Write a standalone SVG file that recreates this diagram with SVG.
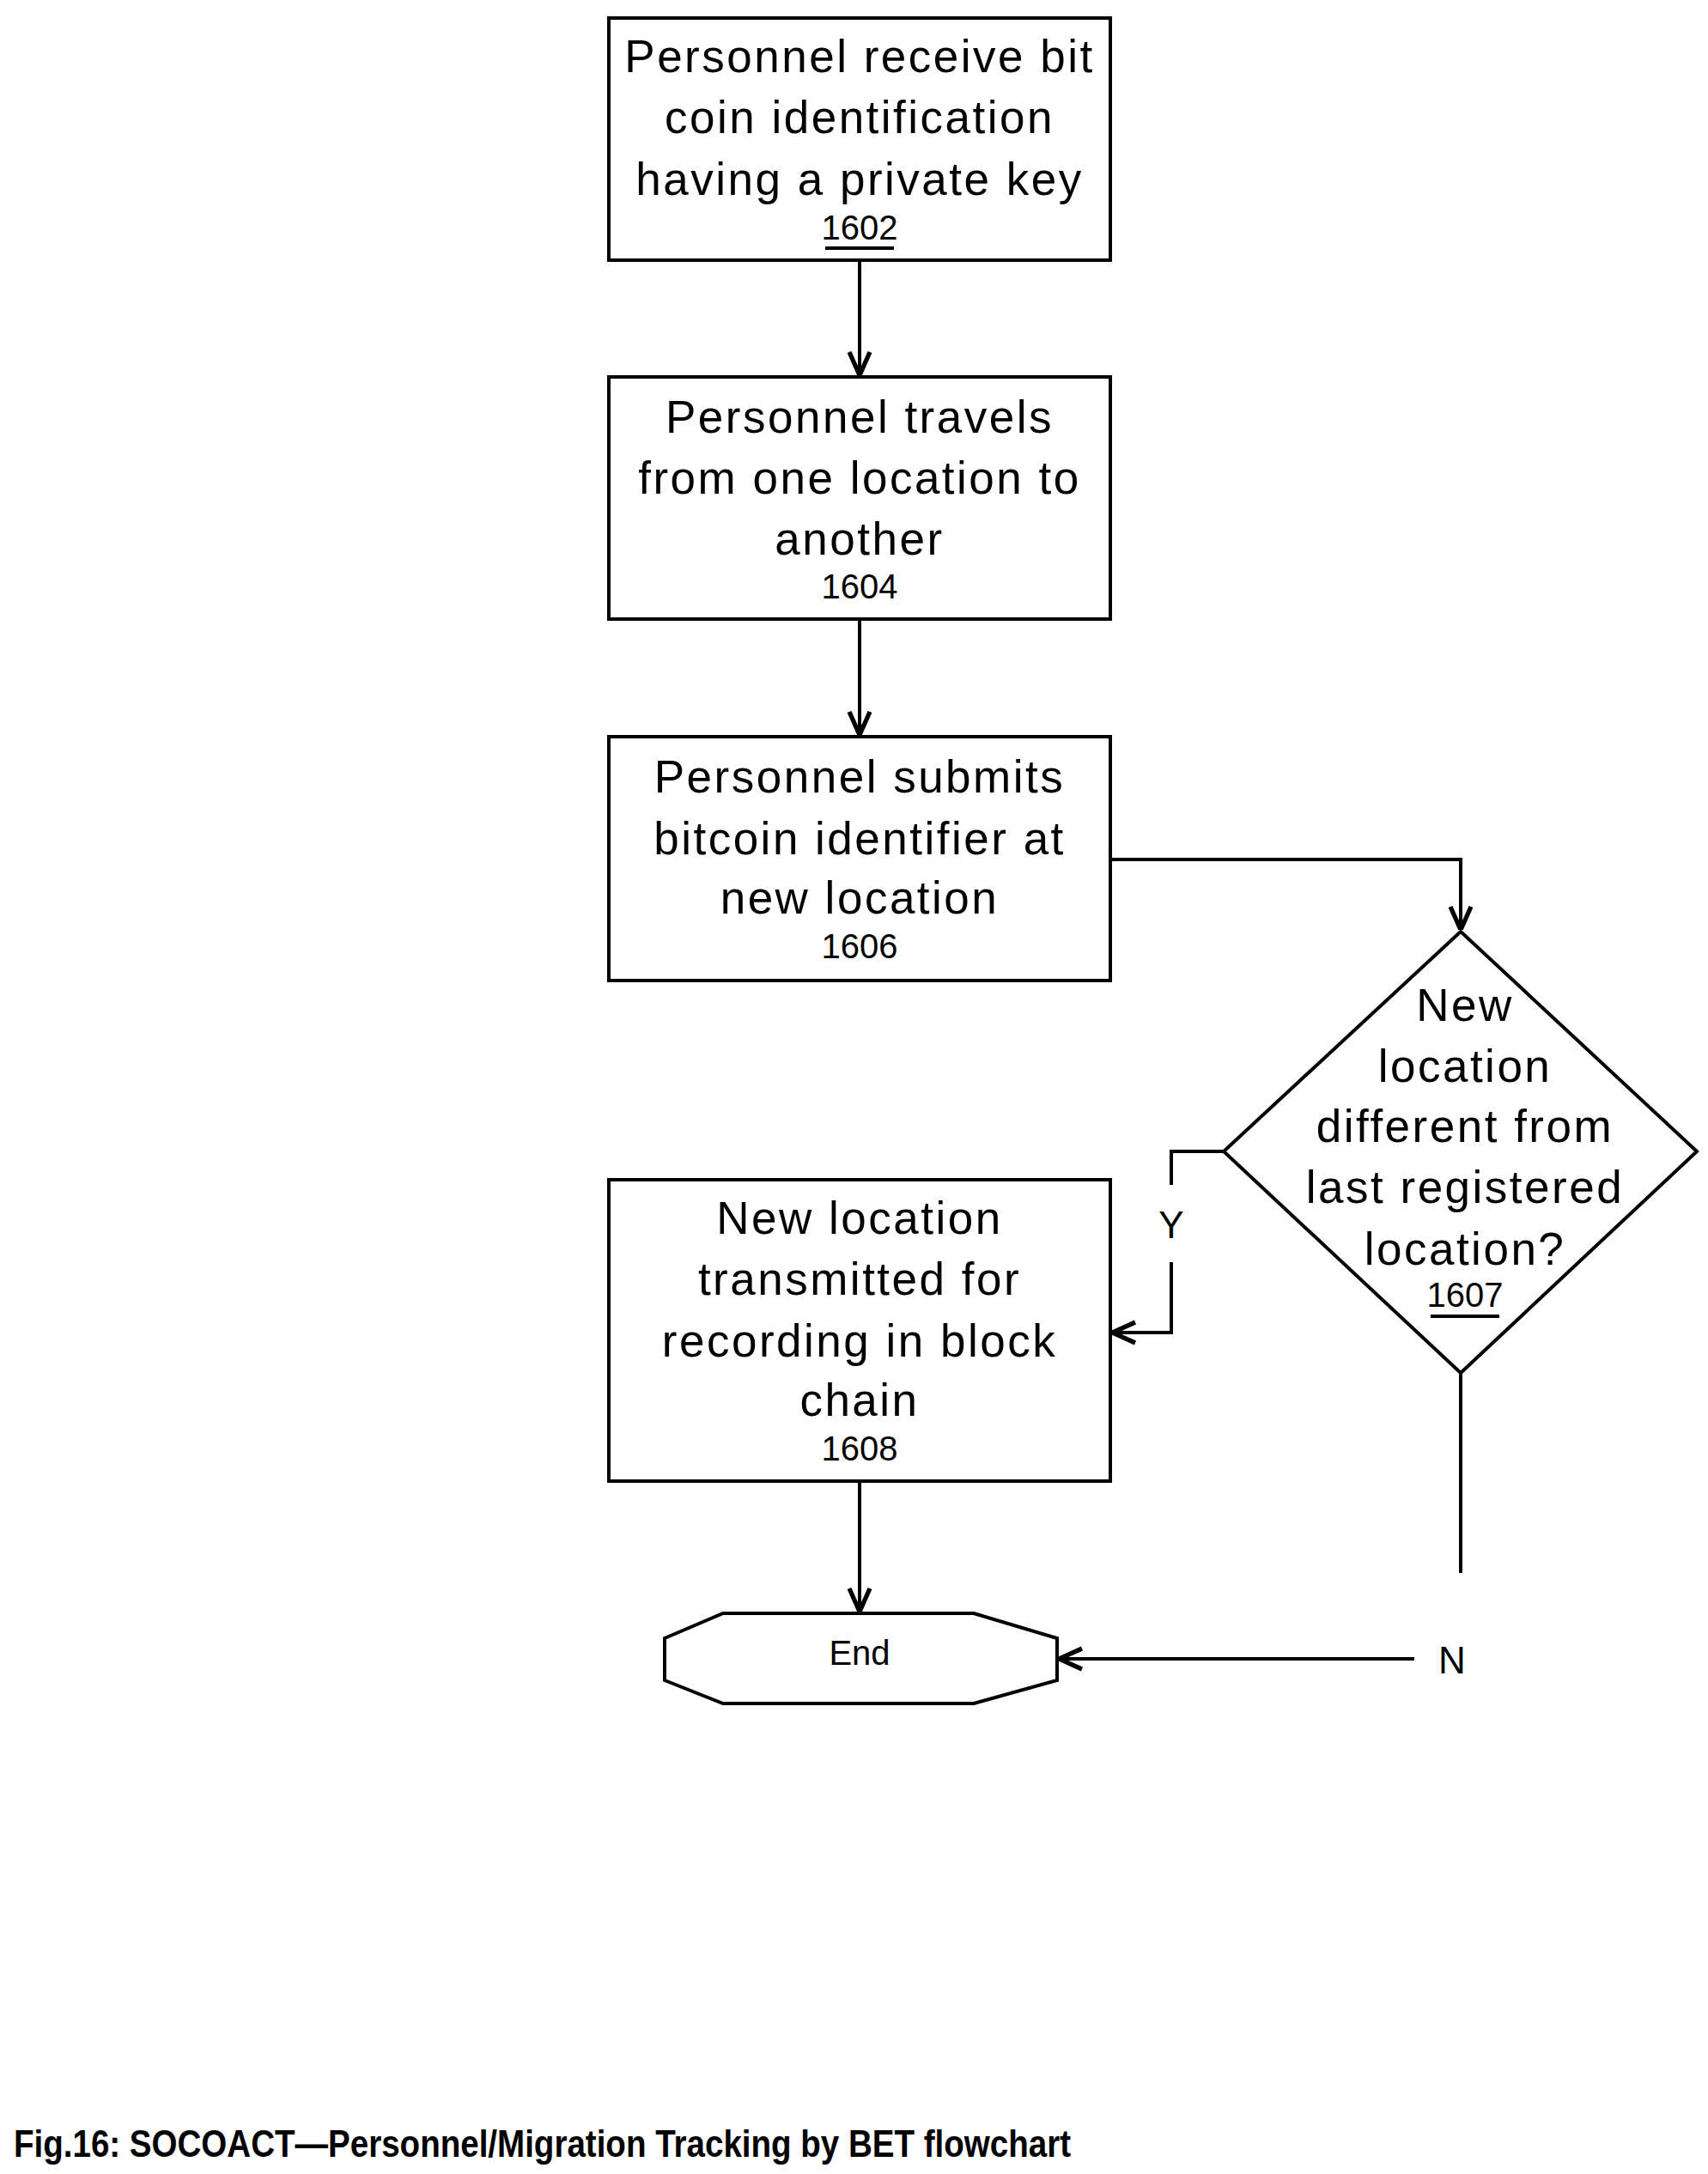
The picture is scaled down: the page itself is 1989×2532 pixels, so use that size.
<svg xmlns="http://www.w3.org/2000/svg" width="1989" height="2532" viewBox="0 0 1989 2532">
<style>
.b{fill:#fff;stroke:#000;stroke-width:4}
.t{font-family:"Liberation Sans",Arial,sans-serif;font-size:53px;text-anchor:middle;letter-spacing:2.5px}
.n{font-family:"Liberation Sans",Arial,sans-serif;font-size:40px;text-anchor:middle}
.c{fill:none;stroke:#000;stroke-width:4}
</style>
<defs>
<marker id="h" viewBox="0 0 20 20" markerWidth="30" markerHeight="30" refX="20" refY="10" orient="auto" markerUnits="userSpaceOnUse"><path d="M2,2 L20,10 L2,18" fill="none" stroke="#000" stroke-width="3.5"/></marker></defs>
<g id="connectors">
<path class="c" d="M1001,303 V437" marker-end="url(#h)"/>
<path class="c" d="M1001,721 V856" marker-end="url(#h)"/>
<path class="c" d="M1293,1001 H1701 V1083" marker-end="url(#h)"/>
<path class="c" d="M1425,1341 H1364 V1380 M1364,1470 V1552 H1295" marker-end="url(#h)"/>
<path class="c" d="M1001,1725 V1877" marker-end="url(#h)"/>
<path class="c" d="M1701,1599 V1832 M1647,1932 H1233" marker-end="url(#h)"/>
<text class="t" x="1364" y="1442" style="font-size:44px;letter-spacing:0">Y</text>
<text class="t" x="1691" y="1949" style="font-size:44px;letter-spacing:0">N</text>
</g>
<g id="n1602"><rect class="b" x="709" y="21" width="584" height="282"/>
<text class="t" x="1001" y="84">Personnel receive bit</text><text class="t" x="1001" y="155">coin identification</text><text class="t" x="1001" y="227">having a private key</text>
<text class="n" x="1001" y="279">1602</text><path class="c" d="M961,289 H1041"/></g>
<g id="n1604"><rect class="b" x="709" y="439" width="584" height="282"/>
<text class="t" x="1001" y="504">Personnel travels</text><text class="t" x="1001" y="575">from one location to</text><text class="t" x="1001" y="646">another</text>
<text class="n" x="1001" y="697">1604</text></g>
<g id="n1606"><rect class="b" x="709" y="858" width="584" height="284"/>
<text class="t" x="1001" y="923">Personnel submits</text><text class="t" x="1001" y="995">bitcoin identifier at</text><text class="t" x="1001" y="1064">new location</text>
<text class="n" x="1001" y="1116">1606</text></g>
<g id="n1607"><polygon class="b" points="1701,1085 1976,1341 1701,1599 1425,1341"/>
<text class="t" x="1706" y="1189">New</text><text class="t" x="1706" y="1260">location</text><text class="t" x="1706" y="1330">different from</text><text class="t" x="1706" y="1401">last registered</text><text class="t" x="1706" y="1473">location?</text>
<text class="n" x="1706" y="1522">1607</text><path class="c" d="M1666,1533 H1746"/></g>
<g id="n1608"><rect class="b" x="709" y="1374" width="584" height="351"/>
<text class="t" x="1001" y="1437">New location</text><text class="t" x="1001" y="1508">transmitted for</text><text class="t" x="1001" y="1580">recording in block</text><text class="t" x="1001" y="1649">chain</text>
<text class="n" x="1001" y="1701">1608</text></g>
<g id="end"><polygon class="b" points="842,1879 1134,1879 1231,1908 1231,1957 1134,1984 842,1984 774,1957 774,1908"/>
<text class="n" x="1001" y="1939">End</text></g>
<text x="16" y="2512" style="font-family:'Liberation Sans',Arial,sans-serif;font-weight:bold;font-size:44px" textLength="1231" lengthAdjust="spacingAndGlyphs">Fig.16: SOCOACT—Personnel/Migration Tracking by BET flowchart</text>
</svg>
